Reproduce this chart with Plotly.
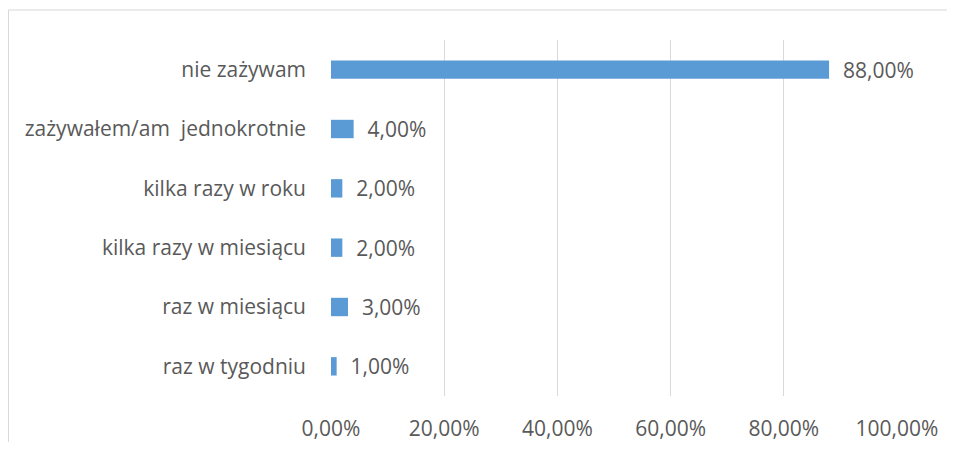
import plotly.graph_objects as go

categories = ["raz w tygodniu", "raz w miesiącu", "kilka razy w miesiącu",
              "kilka razy w roku", "zażywałem/am  jednokrotnie", "nie zażywam"]
values = [1.0, 3.0, 2.0, 2.0, 4.0, 88.0]
tick_vals = [0, 20, 40, 60, 80, 100]
tick_text = ["0,00%", "20,00%", "40,00%", "60,00%", "80,00%", "100,00%"]

labels = ["  " + f"{v:.2f}".replace(".", ",") + "%" for v in values]

grey = "#595959"
fig = go.Figure(go.Bar(
    x=values, y=categories, orientation="h",
    marker=dict(color="#5B9BD5", line=dict(width=0)),
    width=0.31,
    text=labels, textposition="outside", cliponaxis=False,
    constraintext="none",
    textfont=dict(size=21, color=grey),
))

# chart frame: only the top and left edges are visible in the picture
border = dict(color="#D9D9D9", width=1)
fig.update_layout(
    width=947, height=434,
    margin=dict(l=323, r=58, t=32, b=46),
    plot_bgcolor="white", paper_bgcolor="white",
    font=dict(family="Open Sans", size=21, color=grey),
    showlegend=False,
    xaxis=dict(range=[0, 100], tickvals=tick_vals, ticktext=tick_text,
               showgrid=True, gridcolor="#D9D9D9", gridwidth=1,
               zeroline=False, showline=False, ticks="",
               ticklabelstandoff=18, automargin=False,
               tickfont=dict(size=21, color=grey)),
    yaxis=dict(showgrid=False, zeroline=False, showline=False, ticks="",
               ticklabelstandoff=24, automargin=False,
               tickfont=dict(size=21, color=grey)),
    shapes=[
        dict(type="line", xref="paper", yref="paper",
             x0=-0.5698, x1=2, y0=1.0843, y1=1.0843, line=border),
        dict(type="line", xref="paper", yref="paper",
             x0=-0.5698, x1=-0.5698, y0=-1, y1=1.0843, line=border),
    ],
)

fig.write_html("out.html")
